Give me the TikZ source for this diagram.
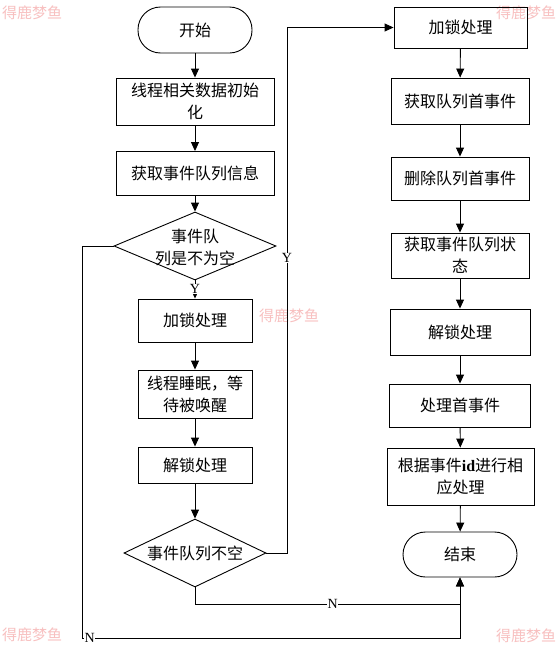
\documentclass[tikz,border=0pt]{standalone}
\usepackage{fontspec}
\setmainfont{Liberation Serif}
\newfontfamily\cjk{Noto Sans CJK SC}
\usetikzlibrary{shapes.geometric,arrows.meta}
\definecolor{wm}{RGB}{248,192,192}
\tikzset{
  base/.style={draw, line width=0.9pt, align=center, inner sep=0pt,
    font=\cjk\fontsize{16}{22}\selectfont},
  proc/.style={base, rectangle},
  term/.style={base, rectangle, rounded corners=22.5pt},
  dec/.style={draw, line width=0.9pt, diamond, inner sep=0pt},
  dtext/.style={align=center, font=\cjk\fontsize{16}{22}\selectfont},
  flow/.style={line width=0.9pt, -{Triangle[width=8pt,length=9pt]}},
  yn/.style={font=\fontsize{14}{14}\selectfont, fill=white, inner sep=0.5pt},
  wmark/.style={text=wm, font=\cjk\fontsize{15}{15}\selectfont, inner sep=0pt}
}
\begin{document}
\begin{tikzpicture}[x=1pt,y=-1pt]
\useasboundingbox[fill=white] (0,0) rectangle (555,651);

% watermarks
\node[wmark] (w1) at (32,13) {得鹿梦鱼};
\node[wmark] (w2) at (526,13) {得鹿梦鱼};
\node[wmark] (w3) at (289,316) {得鹿梦鱼};
\node[wmark] (w4) at (32,635) {得鹿梦鱼};
\node[wmark] (w5) at (526,636) {得鹿梦鱼};

% left column
\node[term, minimum width=114pt, minimum height=46pt] (start) at (195,30) {开始};
\node[proc, minimum width=158pt, minimum height=47pt] (b1) at (195,101.5) {线程相关数据初始\\化};
\node[proc, minimum width=158pt, minimum height=44pt] (b2) at (195,173.5) {获取事件队列信息};
\node[dec, minimum width=162pt, minimum height=68pt] (d1) at (195,246) {};
\node[dtext] (d1t) at (195,247) {事件队\\列是不为空};
\node[proc, minimum width=114pt, minimum height=43pt] (lk1) at (195,320.5) {加锁处理};
\node[proc, minimum width=114pt, minimum height=48pt] (sl) at (195,394) {线程睡眠，等\\待被唤醒};
\node[proc, minimum width=114pt, minimum height=36pt] (ul) at (195,465) {解锁处理};
\node[dec, minimum width=142pt, minimum height=68pt] (d2) at (195,553) {};
\node[dtext] (d2t) at (195,553) {事件队列不空};

% right column
\node[proc, minimum width=133pt, minimum height=41pt] (r1) at (460.5,27.5) {加锁处理};
\node[proc, minimum width=138pt, minimum height=46pt] (r2) at (460,101) {获取队列首事件};
\node[proc, minimum width=138pt, minimum height=43pt] (r3) at (460,178.5) {删除队列首事件};
\node[proc, minimum width=138pt, minimum height=45pt] (r4) at (460,255.5) {获取事件队列状\\态};
\node[proc, minimum width=140pt, minimum height=46pt] (r5) at (460,332) {解锁处理};
\node[proc, minimum width=141pt, minimum height=43pt] (r6) at (460,405.5) {处理首事件};
\node[proc, minimum width=147pt, minimum height=57pt] (r7) at (460.5,476.5) {根据事件{\rmfamily\bfseries id}进行相\\应处理};
\node[term, minimum width=114pt, minimum height=45pt] (end) at (460,554.5) {结束};

% corner coordinates
\coordinate (c1) at (287,553);
\coordinate (c2) at (287,27.5);
\coordinate (c3) at (195,604);
\coordinate (c4) at (460,604);
\coordinate (c5) at (82,246);
\coordinate (c6) at (82,638);
\coordinate (c7) at (460,638);

% connectors
\draw[flow] (start) -- (b1);
\draw[flow] (b1) -- (b2);
\draw[flow] (b2) -- (d1.north);
\draw[flow] (d1.south) -- node[yn, pos=0.48] (ly1) {Y} (lk1);
\draw[flow] (lk1) -- (sl);
\draw[flow] (sl) -- (ul);
\draw[flow] (ul) -- (d2.north);
\draw[flow] (d2.east) -- (c1) -- node[yn, pos=0.561] (ly2) {Y} (c2) -- (r1.west);
\draw[flow] (r1) -- (r2);
\draw[flow] (r2) -- (r3);
\draw[flow] (r3) -- (r4);
\draw[flow] (r4) -- (r5);
\draw[flow] (r5) -- (r6);
\draw[flow] (r6) -- (r7);
\draw[flow] (r7) -- (end);
\draw[flow] (d2.south) -- (c3) -- node[yn, pos=0.52] (ln1) {N} (c4) -- (end.south);
\draw[flow] (d1.west) -- (c5) -- (c6) -- node[yn, pos=0.02] (ln2) {N} (c7) -- (end.south);
\end{tikzpicture}
\end{document}
